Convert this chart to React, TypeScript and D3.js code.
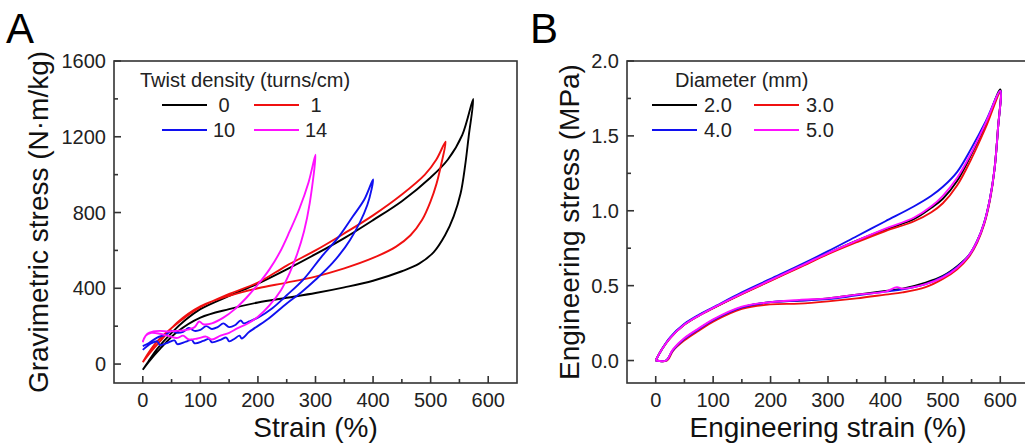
import React from "react";
import * as d3 from "d3";

type Pt = [number, number];

// ---------- Data ----------
const twistLabels = ["0", "1", "10", "14"];
const diameterLabels = ["2.0", "3.0", "4.0", "5.0"];
const seriesColors = ["#000000", "#f01010", "#1010f0", "#ff10ff"];

// Panel A: gravimetric stress (N·m/kg) vs strain (%)
const twist0: Pt[] = [
  [0, -30], [10, 15], [25, 80], [50, 165], [75, 235], [100, 290], [150, 360], [200, 425],
  [250, 500], [300, 580], [350, 665], [400, 760], [450, 860], [500, 985], [530, 1080],
  [555, 1210], [574, 1400],
  [566, 1200], [560, 1050], [552, 900], [540, 780], [525, 680], [505, 590], [480, 530],
  [450, 490], [400, 440], [350, 405], [300, 375], [250, 350], [200, 325], [150, 290],
  [100, 245], [60, 170], [30, 80], [10, 10], [0, -30],
];
const twist1: Pt[] = [
  [0, 10], [10, 60], [25, 120], [50, 190], [75, 250], [100, 300], [150, 370], [200, 430],
  [250, 520], [300, 600], [350, 690], [400, 785], [450, 895], [490, 1000], [510, 1080],
  [526, 1174],
  [518, 1050], [510, 950], [500, 860], [485, 760], [465, 680], [440, 620], [400, 560],
  [350, 505], [300, 462], [250, 430], [200, 400], [150, 360], [100, 305], [60, 220],
  [30, 120], [10, 50], [0, 10],
];
const twist10: Pt[] = [
  [0, 75], [8, 95], [15, 110], [25, 120], [30, 100], [45, 115], [55, 125], [60, 105],
  [75, 118], [85, 128], [90, 110], [105, 122], [115, 133], [120, 115], [135, 128],
  [145, 140], [150, 120], [160, 135], [168, 150], [172, 135], [185, 170], [215, 232],
  [250, 320], [275, 378], [300, 445], [330, 535], [360, 655], [390, 840], [400, 975],
  [385, 870], [365, 780], [340, 670], [310, 565], [280, 450], [250, 363], [225, 295],
  [200, 245], [185, 225], [175, 215], [170, 230], [160, 205], [150, 195], [140, 215],
  [130, 195], [120, 185], [110, 200], [100, 180], [90, 175], [80, 190], [70, 170],
  [60, 165], [50, 175], [40, 155], [25, 140], [10, 110], [0, 95],
];
const twist14: Pt[] = [
  [0, 115], [5, 150], [15, 165], [30, 160], [45, 148], [60, 138], [70, 150], [80, 130],
  [95, 135], [110, 145], [120, 130], [135, 150], [150, 165], [165, 190], [180, 210],
  [200, 250], [220, 310], [240, 390], [255, 480], [268, 580], [280, 700], [290, 850],
  [300, 1105],
  [288, 960], [272, 820], [255, 700], [238, 590], [220, 500], [200, 420], [180, 350],
  [160, 290], [140, 245], [120, 215], [105, 210], [98, 225], [90, 195], [75, 180],
  [60, 175], [45, 172], [30, 175], [18, 172], [8, 160], [0, 120],
];

// Panel B: engineering stress (MPa) vs engineering strain (%)
const dia20: Pt[] = [
  [0, 0], [10, 0.07], [25, 0.15], [50, 0.24], [75, 0.3], [100, 0.35], [150, 0.445],
  [200, 0.535], [250, 0.625], [300, 0.715], [350, 0.8], [400, 0.875], [450, 0.945],
  [480, 1.02], [500, 1.08], [525, 1.2], [550, 1.38], [575, 1.58], [600, 1.81],
  [596, 1.55], [590, 1.28], [582, 1.08], [572, 0.92], [560, 0.8], [545, 0.7], [525, 0.63],
  [500, 0.565], [470, 0.52], [430, 0.48], [400, 0.465], [350, 0.44], [300, 0.415],
  [250, 0.4], [200, 0.39], [150, 0.355], [100, 0.27], [75, 0.21], [50, 0.145], [30, 0.07],
  [18, 0], [0, 0],
];
const dia30: Pt[] = [
  [0, 0], [10, 0.07], [25, 0.15], [50, 0.24], [75, 0.3], [100, 0.35], [150, 0.443],
  [200, 0.532], [250, 0.62], [300, 0.71], [350, 0.79], [400, 0.865], [450, 0.93],
  [480, 0.99], [500, 1.05], [525, 1.17], [550, 1.35], [575, 1.56], [600, 1.79],
  [596, 1.55], [590, 1.28], [582, 1.07], [572, 0.91], [560, 0.79], [545, 0.69], [525, 0.61],
  [500, 0.545], [470, 0.49], [430, 0.455], [400, 0.44], [350, 0.415], [300, 0.395],
  [250, 0.38], [200, 0.375], [150, 0.345], [100, 0.26], [75, 0.2], [50, 0.135], [30, 0.065],
  [20, 0], [0, 0],
];
const dia40: Pt[] = [
  [0, 0], [10, 0.07], [25, 0.155], [50, 0.245], [75, 0.305], [100, 0.355], [150, 0.455],
  [200, 0.545], [250, 0.635], [300, 0.73], [350, 0.83], [400, 0.93], [450, 1.03],
  [480, 1.1], [500, 1.16], [525, 1.26], [550, 1.42], [575, 1.6], [600, 1.8],
  [596, 1.55], [590, 1.28], [582, 1.08], [572, 0.92], [560, 0.8], [545, 0.7], [525, 0.625],
  [500, 0.56], [470, 0.51], [430, 0.475], [400, 0.46], [350, 0.435], [300, 0.41],
  [250, 0.4], [200, 0.39], [150, 0.355], [100, 0.27], [75, 0.21], [50, 0.145], [30, 0.07],
  [18, 0], [0, 0],
];
const dia50: Pt[] = [
  [0, 0], [10, 0.07], [25, 0.15], [50, 0.24], [75, 0.3], [100, 0.352], [150, 0.447],
  [200, 0.537], [250, 0.627], [300, 0.717], [350, 0.8], [400, 0.88], [450, 0.955],
  [480, 1.03], [500, 1.1], [525, 1.22], [550, 1.39], [575, 1.59], [600, 1.8],
  [596, 1.55], [590, 1.28], [582, 1.08], [572, 0.92], [560, 0.8], [545, 0.7], [525, 0.62],
  [500, 0.555], [470, 0.51], [430, 0.48], [420, 0.49], [400, 0.46], [350, 0.44],
  [300, 0.415], [250, 0.405], [200, 0.39], [150, 0.36], [100, 0.275], [75, 0.215],
  [50, 0.15], [30, 0.075], [18, 0], [0, 0],
];

const strainTicks = [0, 100, 200, 300, 400, 500, 600];
const strainMinor = [50, 150, 250, 350, 450, 550];
const gravTicks = [0, 400, 800, 1200, 1600];
const gravMinor = [200, 600, 1000, 1400];
const engTicks = [0, 0.5, 1.0, 1.5, 2.0];
const engMinor = [0.25, 0.75, 1.25, 1.75];

const FONT = "'Liberation Sans', Arial, Helvetica, sans-serif";

interface PanelProps {
  left: number; right: number; top: number; bottom: number;
  xDomain: [number, number]; yDomain: [number, number];
  xTicks: number[]; xMinor: number[]; yTicks: number[]; yMinor: number[];
  yFmt: (v: number) => string;
  series: Pt[][]; labels: string[]; legendTitle: string;
  legendTitleX: number; legendLineX: [number, number]; legendColDx: number;
  legendLabelDx: number; legendAnchor: "start" | "middle";
  xTitle: string; yTitle: string; yTitleX: number;
  letter: string; letterX: number;
}

function Panel(p: PanelProps) {
  const x = d3.scaleLinear().domain(p.xDomain).range([p.left, p.right]);
  const y = d3.scaleLinear().domain(p.yDomain).range([p.bottom, p.top]);
  const line = d3
    .line<Pt>()
    .x((d) => x(d[0]))
    .y((d) => y(d[1]))
    .curve(d3.curveCatmullRom.alpha(0.5));
  const major = 7;
  const minor = 4;
  const axisColor = "#333";
  const rowY = [105, 130];
  return (
    <g fontFamily={FONT}>
      <text x={p.letterX} y={43} fontSize={42} fill="#000">{p.letter}</text>
      {p.series.map((s, i) => (
        <path key={i} d={line(s) || ""} fill="none" stroke={seriesColors[i]} strokeWidth={1.9} strokeLinejoin="round" />
      ))}
      {/* box */}
      <rect x={p.left} y={p.top} width={p.right - p.left} height={p.bottom - p.top} fill="none" stroke={axisColor} strokeWidth={1.6} />
      {/* x ticks */}
      {p.xTicks.map((t) => (
        <g key={"x" + t}>
          <line x1={x(t)} x2={x(t)} y1={p.bottom} y2={p.bottom - major} stroke={axisColor} strokeWidth={1.6} />
          <text x={x(t)} y={p.bottom + 24} fontSize={20} textAnchor="middle" fill="#222">{t}</text>
        </g>
      ))}
      {p.xMinor.map((t) => (
        <line key={"xm" + t} x1={x(t)} x2={x(t)} y1={p.bottom} y2={p.bottom - minor} stroke={axisColor} strokeWidth={1.6} />
      ))}
      {p.yTicks.map((t) => (
        <g key={"y" + t}>
          <line x1={p.left} x2={p.left + major} y1={y(t)} y2={y(t)} stroke={axisColor} strokeWidth={1.6} />
          <text x={p.left - 8} y={y(t) + 7} fontSize={20} textAnchor="end" fill="#222">{p.yFmt(t)}</text>
        </g>
      ))}
      {p.yMinor.map((t) => (
        <line key={"ym" + t} x1={p.left} x2={p.left + minor} y1={y(t)} y2={y(t)} stroke={axisColor} strokeWidth={1.6} />
      ))}
      {/* titles */}
      <text x={(p.left + p.right) / 2} y={437} fontSize={28} textAnchor="middle" fill="#111">{p.xTitle}</text>
      <text transform={`translate(${p.yTitleX},${(p.top + p.bottom) / 2}) rotate(-90)`} fontSize={28} textAnchor="middle" fill="#111">{p.yTitle}</text>
      {/* legend */}
      <text x={p.legendTitleX} y={87} fontSize={20} fill="#222">{p.legendTitle}</text>
      {p.labels.map((lab, i) => {
        const col = i % 2;
        const row = Math.floor(i / 2);
        const x1 = p.legendLineX[0] + col * p.legendColDx;
        const x2 = p.legendLineX[1] + col * p.legendColDx;
        const yy = rowY[row];
        return (
          <g key={lab}>
            <line x1={x1} x2={x2} y1={yy} y2={yy} stroke={seriesColors[i]} strokeWidth={1.9} />
            <text x={x2 + p.legendLabelDx} y={yy + 7} fontSize={20} textAnchor={p.legendAnchor} fill="#222">{lab}</text>
          </g>
        );
      })}
    </g>
  );
}

export default function App() {
  return (
    <svg width={1025} height={446} style={{ position: "absolute", left: 0, top: 0, background: "#fff" }}>
      <rect x={0} y={0} width={1025} height={446} fill="#fff" />
      <Panel
        left={114} right={517} top={61} bottom={383}
        xDomain={[-50, 650]} yDomain={[-100, 1600]}
        xTicks={strainTicks} xMinor={strainMinor} yTicks={gravTicks} yMinor={gravMinor}
        yFmt={(v) => String(v)}
        series={[twist0, twist1, twist10, twist14]} labels={twistLabels}
        legendTitle="Twist density (turns/cm)" legendTitleX={140}
        legendLineX={[162, 207]} legendColDx={92} legendLabelDx={17} legendAnchor="middle"
        xTitle="Strain (%)" yTitle="Gravimetric stress (N·m/kg)" yTitleX={48}
        letter="A" letterX={6}
      />
      <Panel
        left={627} right={1029} top={61} bottom={383}
        xDomain={[-50, 650]} yDomain={[-0.15, 2.0]}
        xTicks={strainTicks} xMinor={strainMinor} yTicks={engTicks} yMinor={engMinor}
        yFmt={d3.format(".1f")}
        series={[dia20, dia30, dia40, dia50]} labels={diameterLabels}
        legendTitle="Diameter (mm)" legendTitleX={675}
        legendLineX={[652, 697]} legendColDx={102} legendLabelDx={7} legendAnchor="start"
        xTitle="Engineering strain (%)" yTitle="Engineering stress (MPa)" yTitleX={579}
        letter="B" letterX={530}
      />
    </svg>
  );
}
